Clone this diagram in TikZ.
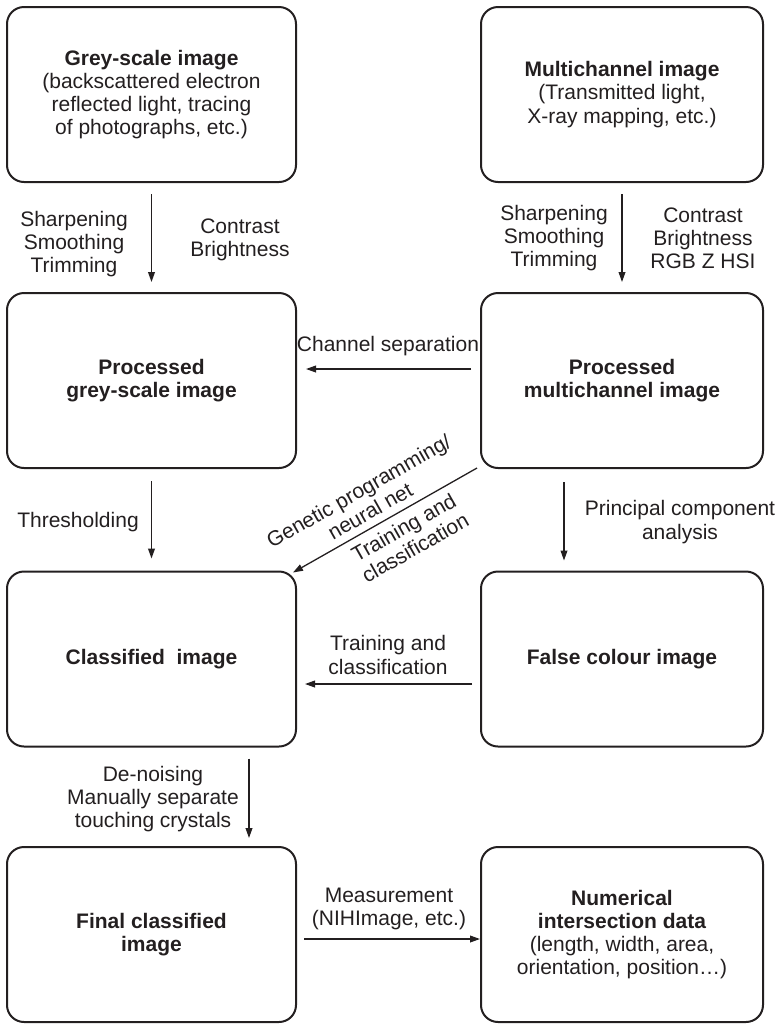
\documentclass[tikz,border=0pt]{standalone}
\usepackage{fontspec}
\setmainfont{Liberation Sans}
\usetikzlibrary{arrows.meta}
\definecolor{ink}{HTML}{231F20}

\begin{document}
\begin{tikzpicture}[x=0.5pt,y=-0.5pt,
  font=\fontsize{10.5}{11.6}\selectfont,
  >={Triangle[length=5pt,width=3.4pt]},
  stage/.style={draw=ink,line width=1pt,rounded corners=8.5pt,align=center,text=ink,minimum height=87.5pt,inner sep=0pt},
  wide/.style={stage,minimum width=144.5pt},
  narrow/.style={stage,minimum width=141pt},
  flow/.style={draw=ink,line width=0.65pt,->},
  note/.style={align=center,text=ink,inner sep=0pt}]
  \useasboundingbox (0,0) rectangle (779,1024);
  % boxes
  \node[wide] (grey) at (151.5,94.5) {\textbf{Grey-scale image}\\(backscattered electron\\reflected light, tracing\\of photographs, etc.)};
  \node[narrow] (multi) at (622,94.5) {\textbf{Multichannel image}\\(Transmitted light,\\X-ray mapping, etc.)};
  \node[wide] (pgrey) at (151.5,380.5) {\textbf{Processed}\\\textbf{grey-scale image}};
  \node[narrow] (pmulti) at (622,380.5) {\textbf{Processed}\\\textbf{multichannel image}};
  \node[wide] (class) at (151.5,659) {\textbf{Classified\ \ image}};
  \node[narrow] (falsec) at (622,659) {\textbf{False colour image}};
  \node[wide] (final) at (151.5,934.5) {\textbf{Final classified}\\\textbf{image}};
  \node[narrow] (numdata) at (622,934.5) {\textbf{Numerical}\\\textbf{intersection data}\\(length, width, area,\\orientation, position\ldots)};
  % arrows
  \draw[flow,shorten <=5.5pt,shorten >=5pt] (grey) -- (pgrey);
  \draw[flow,shorten <=5.5pt,shorten >=5pt] (multi) -- (pmulti);
  \draw[flow,shorten <=4.5pt,shorten >=4.5pt] ([yshift=5.75pt]pmulti.west) -- ([yshift=5.75pt]pgrey.east);
  \draw[flow,shorten <=6pt,shorten >=6pt] (pgrey) -- (class);
  \draw[flow,shorten <=6.5pt,shorten >=5pt] ([xshift=-29pt]pmulti.south) -- ([xshift=-29pt]falsec.north);
  \draw[flow,<-] ([shift={(-4,2)}]class.north east) -- node[note,sloped,above=3.5pt,pos=0.46]{Genetic programming/\\neural net} node[note,sloped,below=3.5pt,pos=0.56]{Training and\\classification} ([shift={(-3,-1)}]pmulti.south west);
  \draw[flow,shorten <=4pt,shorten >=4pt] ([yshift=-12.5pt]falsec.west) -- ([yshift=-12.5pt]class.east);
  \draw[flow,shorten <=5.5pt,shorten >=4pt] ([xshift=48.75pt]class.south) -- ([xshift=48.75pt]final.north);
  \draw[flow,shorten <=3.5pt] ([yshift=-2.25pt]final.east) -- ([yshift=-2.25pt]numdata.west);
  % labels
  \node[note] (sharpL) at (74,244) {Sharpening\\Smoothing\\Trimming};
  \node[note] (contrL) at (240,240) {Contrast\\Brightness};
  \node[note] (sharpR) at (554,238) {Sharpening\\Smoothing\\Trimming};
  \node[note] (contrR) at (703,238) {Contrast\\Brightness\\RGB Z HSI};
  \node[note] (chsep) at (388,346) {Channel separation};
  \node[note] (thresh) at (78,522) {Thresholding};
  \node[note] (pca) at (680,522) {Principal component\\analysis};
  \node[note] (train) at (388,655) {Training and\\classification};
  \node[note] (denoise) at (153,799) {De-noising\\Manually separate\\touching crystals};
  \node[note] (measure) at (389,909) {Measurement\\(NIHImage, etc.)};
\end{tikzpicture}
\end{document}
